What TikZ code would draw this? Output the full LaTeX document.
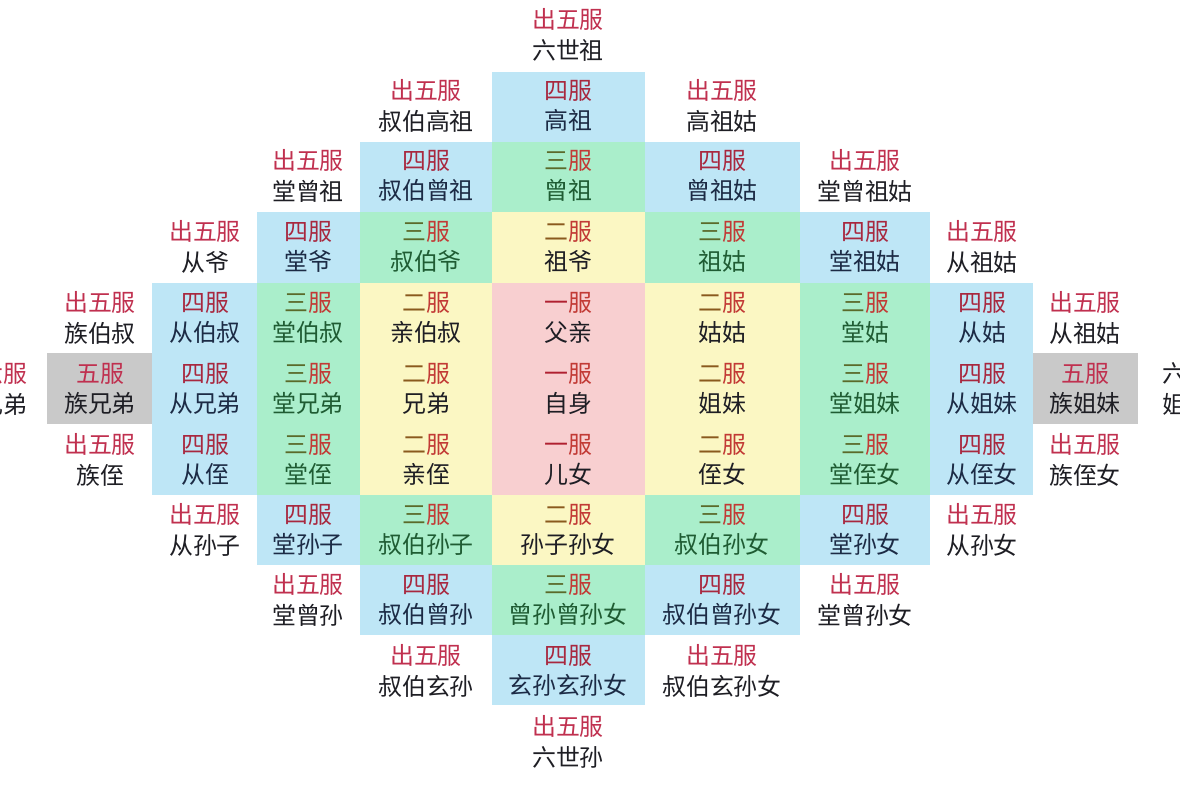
\documentclass[tikz,border=0pt]{standalone}
\usepackage{fontspec}
\usepackage{xcolor}
\usepackage{tikz}
\setmainfont{Noto Sans CJK SC}

\definecolor{fublue}{HTML}{BEE6F6}
\definecolor{fugreen}{HTML}{AAEECB}
\definecolor{fuyellow}{HTML}{FBF7C3}
\definecolor{fupink}{HTML}{F8CFD0}
\definecolor{fugray}{HTML}{C9C9C9}
\definecolor{chured}{HTML}{C0304F}
\definecolor{sired}{HTML}{A8283F}
\definecolor{fured}{HTML}{C23A35}
\definecolor{sanolive}{HTML}{5A6A2A}
\definecolor{erbrown}{HTML}{8A5A1E}
\definecolor{yired}{HTML}{B02030}
\definecolor{inkdark}{HTML}{1E1E24}
\definecolor{inknavy}{HTML}{1C2B45}
\definecolor{inkgreen}{HTML}{1F5C33}

\newcommand{\chuwu}{\textcolor{chured}{出五服}}
\newcommand{\wufu}{\textcolor{chured}{五服}}
\newcommand{\sifu}{\textcolor{sired}{四服}}
\newcommand{\sanfu}{\textcolor{sanolive}{三}\textcolor{fured}{服}}
\newcommand{\erfu}{\textcolor{erbrown}{二}\textcolor{fured}{服}}
\newcommand{\yifu}{\textcolor{yired}{一}\textcolor{fured}{服}}

\tikzset{
  kin/.style={align=center, inner sep=0pt, text=inkdark,
    font=\fontsize{17}{21.5}\selectfont},
  kinblue/.style={kin, text=inknavy},
  kingreen/.style={kin, text=inkgreen},
}

\begin{document}
\begin{tikzpicture}[x=0.025cm,y=-0.025cm]
    \useasboundingbox (0,0) rectangle (1180,786);

    % cells
    \foreach \a/\b/\c/\d in {492/72/645/142, 360/142/492/212, 645/142/800/212,
        257/212/360/283, 800/212/930/283, 152/283/257/495, 930/283/1033/495,
        257/495/360/565, 800/495/930/565, 360/565/492/635, 645/565/800/635,
        492/635/645/705}
        \fill[fublue] (\a,\b) rectangle (\c,\d);
    \foreach \a/\b/\c/\d in {492/142/645/212, 360/212/492/283, 645/212/800/283,
        257/283/360/495, 800/283/930/495, 360/495/492/565, 645/495/800/565,
        492/565/645/635}
        \fill[fugreen] (\a,\b) rectangle (\c,\d);
    \foreach \a/\b/\c/\d in {492/212/645/283, 360/283/492/495, 645/283/800/495,
        492/495/645/565}
        \fill[fuyellow] (\a,\b) rectangle (\c,\d);
    \fill[fupink] (492,283) rectangle (645,495);
    \fill[fugray] (47,353) rectangle (152,424);
    \fill[fugray] (1033,353) rectangle (1138,424);

    % 出五服
    \foreach \x/\y/\n/\t in {568/35/liushizu/六世祖, 426/106/shubogaozu/叔伯高祖,
        722/106/gaozugu/高祖姑, 308/176/tangzengzu/堂曾祖, 865/176/tangzengzugu/堂曾祖姑,
        205/247/congye/从爷, 982/247/congzugu/从祖姑, 100/318/zubaishu/族伯叔,
        1085/318/congzugub/从祖姑, 100/460/zuzhi/族侄, 1085/460/zuzhinv/族侄女,
        205/530/congsunzi/从孙子, 982/530/congsunnv/从孙女, 308/600/tangzengsun/堂曾孙,
        865/600/tangzengsunnv/堂曾孙女, 426/671/shuboxuansun/叔伯玄孙,
        722/671/shuboxuansunnv/叔伯玄孙女, 568/742/liushisun/六世孙}
        \node[kin] (\n) at (\x,\y) {\chuwu\\\t};

    % 五服
    \node[kin] (zuxiongdi) at (100,389) {\wufu\\族兄弟};
    \node[kin] (zujiemei) at (1085,389) {\wufu\\族姐妹};
    \node[kin, anchor=east] (liufuxd) at (28,389) {\textcolor{chured}{六服}\\兄弟};
    \node[kin, anchor=west] (liufujm) at (1162,389) {六服\\姐妹};

    % 四服
    \foreach \x/\y/\n/\t in {568/106/gaozu/高祖, 426/176/shubozengzu/叔伯曾祖,
        722/176/zengzugu/曾祖姑, 308/247/tangye/堂爷, 865/247/tangzugu/堂祖姑,
        205/318/congbaishu/从伯叔, 982/318/conggu/从姑, 205/389/congxiongdi/从兄弟,
        982/389/congjiemei/从姐妹, 205/460/congzhi/从侄, 982/460/congzhinv/从侄女,
        308/530/tangsunzi/堂孙子, 865/530/tangsunnv/堂孙女, 426/600/shubozengsun/叔伯曾孙,
        722/600/shubozengsunnv/叔伯曾孙女, 568/671/xuansun/玄孙玄孙女}
        \node[kinblue] (\n) at (\x,\y) {\sifu\\\t};

    % 三服
    \foreach \x/\y/\n/\t in {568/176/zengzu/曾祖, 426/247/shuboye/叔伯爷,
        722/247/zugu/祖姑, 308/318/tangbaishu/堂伯叔, 865/318/tanggu/堂姑,
        308/389/tangxiongdi/堂兄弟, 865/389/tangjiemei/堂姐妹, 308/460/tangzhi/堂侄,
        865/460/tangzhinv/堂侄女, 426/530/shubosunzi/叔伯孙子, 722/530/shubosunnv/叔伯孙女,
        568/600/zengsun/曾孙曾孙女}
        \node[kingreen] (\n) at (\x,\y) {\sanfu\\\t};

    % 二服
    \foreach \x/\y/\n/\t in {568/247/zuye/祖爷, 426/318/qinbaishu/亲伯叔,
        722/318/gugu/姑姑, 426/389/xiongdi/兄弟, 722/389/jiemei/姐妹,
        426/460/qinzhi/亲侄, 722/460/zhinv/侄女, 568/530/sunzisunnv/孙子孙女}
        \node[kin] (\n) at (\x,\y) {\erfu\\\t};

    % 一服
    \foreach \y/\n/\t in {318/fuqin/父亲, 389/zishen/自身, 460/ernv/儿女}
        \node[kin] (\n) at (568,\y) {\yifu\\\t};
\end{tikzpicture}
\end{document}
